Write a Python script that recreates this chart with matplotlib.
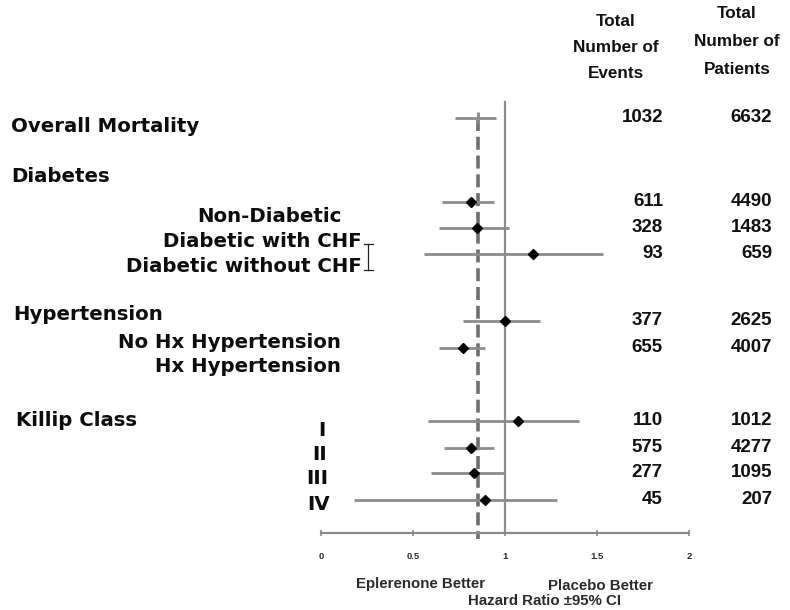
import matplotlib
matplotlib.use('Agg')
import matplotlib.pyplot as plt
from matplotlib.lines import Line2D

# dados
grupos = ['Overall Mortality', 'Non-Diabetic', 'Diabetic with CHF', 'Diabetic without CHF',
          'No Hx Hypertension', 'Hx Hypertension', 'I', 'II', 'III', 'IV']
hr = [0.855, 0.815, 0.85, 1.15, 1.0, 0.77, 1.07, 0.815, 0.83, 0.89]
ic_inf = [0.73, 0.66, 0.64, 0.56, 0.77, 0.64, 0.58, 0.67, 0.60, 0.18]
ic_sup = [0.95, 0.94, 1.02, 1.53, 1.19, 0.89, 1.40, 0.94, 1.00, 1.28]
eventos = [1032, 611, 328, 93, 377, 655, 110, 575, 277, 45]
pacientes = [6632, 4490, 1483, 659, 2625, 4007, 1012, 4277, 1095, 207]
xticks = [0, 0.5, 1, 1.5, 2]
xtick_labels = ['0', '0.5', '1', '1.5', '2']

# posicoes verticais das linhas (pixels a partir do topo)
linhas_y = [118, 202, 228, 254, 321, 348, 421, 448, 473, 500]

W, H = 790, 610
fig = plt.figure(figsize=(W / 100, H / 100), dpi=100)
fig.patch.set_facecolor('white')

ax_esq, ax_dir, ax_base = 321, 689, 533
ax = fig.add_axes([ax_esq / W, (H - ax_base) / H, (ax_dir - ax_esq) / W, ax_base / H])
ax.set_xlim(0, 2)
ax.set_ylim(ax_base, 0)
for s in ['top', 'right', 'left']:
    ax.spines[s].set_visible(False)
ax.spines['bottom'].set_color('#8a8a8a')
ax.spines['bottom'].set_linewidth(1.6)
ax.set_yticks([])
ax.set_xticks(xticks)
ax.set_xticklabels(xtick_labels, fontsize=6.8, fontweight='bold', family='Liberation Sans',
                   color='#2a2a2a')
ax.tick_params(axis='x', direction='inout', length=4, width=1.2, color='#8a8a8a', pad=12)

cinza = '#8c8c8c'
# linha de referencia (HR = 1) e linha do efeito global
ax.plot([1, 1], [102, ax_base], color=cinza, lw=1.6, zorder=1)
ax.plot([hr[0], hr[0]], [linhas_y[0], ax_base + 6], color='#6e6e6e', lw=2.6,
        dashes=(3.6, 1.6), zorder=1, clip_on=False)

for i in range(len(hr)):
    y = linhas_y[i]
    ax.plot([ic_inf[i], ic_sup[i]], [y, y], color=cinza, lw=2, zorder=2, solid_capstyle='butt')
    if i == 0:
        ax.plot([hr[i]], [y], marker='|', ms=8, mew=2, color=cinza, zorder=3)
    else:
        ax.plot([hr[i]], [y], marker='D', ms=5.5, color='black', zorder=3)

def px(x, y):
    return x / W, 1 - y / H

fonte_rot = dict(family='DejaVu Sans', fontweight='bold', fontsize=14.2, color='#0d0d0d')

# rotulos dos grupos
fig.text(*px(11, 127), 'Overall Mortality', ha='left', va='center', **fonte_rot)
fig.text(*px(11, 176), 'Diabetes', ha='left', va='center', **fonte_rot)
fig.text(*px(342, 216), grupos[1], ha='right', va='center', **fonte_rot)
fig.text(*px(362, 242), grupos[2], ha='right', va='center', **fonte_rot)
fig.text(*px(362, 267), grupos[3], ha='right', va='center', **fonte_rot)
fig.text(*px(13, 314), 'Hypertension', ha='left', va='center', **fonte_rot)
fig.text(*px(341, 342), grupos[4], ha='right', va='center', **fonte_rot)
fig.text(*px(341, 366), grupos[5], ha='right', va='center', **fonte_rot)
fig.text(*px(16, 421), 'Killip Class', ha='left', va='center', **fonte_rot)
fig.text(*px(326, 430), grupos[6], ha='right', va='center', **fonte_rot)
fig.text(*px(327, 455), grupos[7], ha='right', va='center', **fonte_rot)
fig.text(*px(328, 479), grupos[8], ha='right', va='center', **fonte_rot)
fig.text(*px(330, 505), grupos[9], ha='right', va='center', **fonte_rot)

# cursor de texto que aparece na imagem
for seg in [((368, 368), (244, 270)), ((364, 373), (244, 244)), ((364, 373), (270, 270))]:
    xs = [v / W for v in seg[0]]
    ys = [1 - v / H for v in seg[1]]
    fig.add_artist(Line2D(xs, ys, color='#222222', lw=0.9))

# colunas de numeros
fonte_num = dict(family='Liberation Sans', fontweight='bold', fontsize=13.5, color='#111111')
for i in range(len(eventos)):
    y = linhas_y[i] - 0.5
    fig.text(*px(663, y), str(eventos[i]), ha='right', va='center', **fonte_num)
    fig.text(*px(772, y), str(pacientes[i]), ha='right', va='center', **fonte_num)

fonte_cab = dict(family='Liberation Sans', fontweight='bold', fontsize=12.3, color='#111111')
for j, t in enumerate(['Total', 'Number of', 'Events']):
    fig.text(*px(616, 22 + j * 25.5), t, ha='center', va='center', **fonte_cab)
for j, t in enumerate(['Total', 'Number of', 'Patients']):
    fig.text(*px(737, 14 + j * 28), t, ha='center', va='center', **fonte_cab)

fonte_base = dict(family='Liberation Sans', fontweight='bold', fontsize=10.8, color='#2a2a2a')
fig.text(*px(421, 584), 'Eplerenone Better', ha='center', va='center', **fonte_base)
fig.text(*px(600, 586), 'Placebo Better', ha='center', va='center', **fonte_base)
fig.text(*px(545, 601), 'Hazard Ratio ±95% CI', ha='center', va='center', **fonte_base)

fig.savefig('out.png', dpi=100, facecolor='white')
